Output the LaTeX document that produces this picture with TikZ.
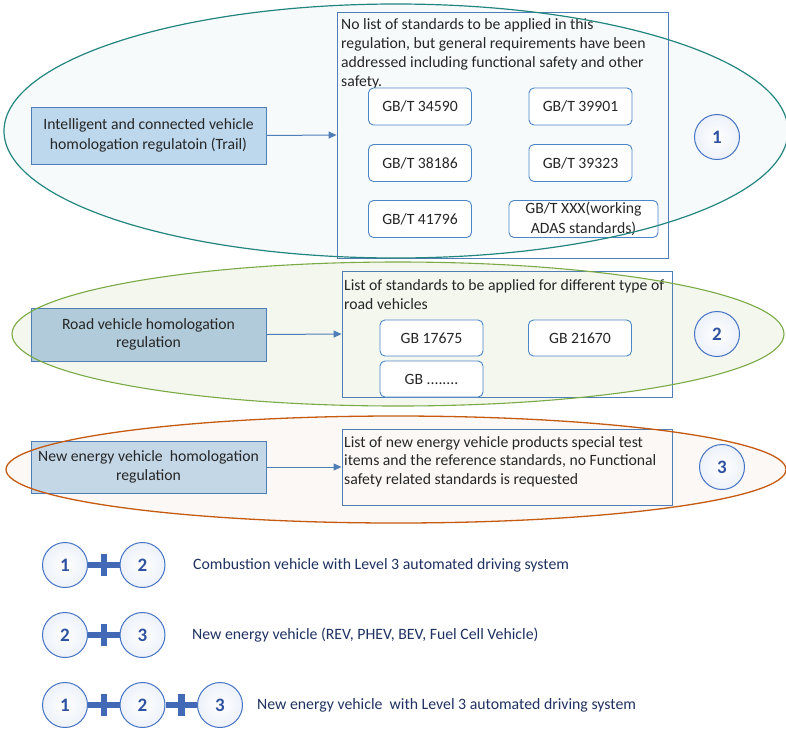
\documentclass[tikz,border=0pt]{standalone}
\usepackage{fontspec}
\setmainfont{Carlito}
\usetikzlibrary{shapes.geometric,calc,arrows.meta}

\definecolor{tealedge}{HTML}{23857F}
\definecolor{tealfill}{HTML}{F7FAFB}
\definecolor{greenedge}{HTML}{7AAA45}
\definecolor{greenfill}{HTML}{F3F7EE}
\definecolor{orangeedge}{HTML}{C55A11}
\definecolor{orangefill}{HTML}{FCF8F5}
\definecolor{boxedge}{HTML}{4F7DB6}
\definecolor{boxfillA}{HTML}{BDD7EC}
\definecolor{boxfillB}{HTML}{B1CBDA}
\definecolor{boxfillC}{HTML}{C4D7E7}
\definecolor{stdedge}{HTML}{4A86C8}
\definecolor{numblue}{HTML}{2F52A0}
\definecolor{ringblue}{HTML}{4472C4}
\definecolor{plusblue}{HTML}{4169B5}
\definecolor{navytext}{HTML}{1F3161}
\definecolor{bodytext}{HTML}{262626}

\tikzset{
  regbox/.style={draw=boxedge, line width=0.9pt, minimum width=235pt,
    align=center, text=bodytext, inner sep=0pt},
  listbox/.style={draw=boxedge, line width=0.9pt, minimum width=330pt, inner sep=0pt},
  listtext/.style={anchor=north west, align=left, text=bodytext, inner sep=0pt},
  stdbox/.style={draw=stdedge, line width=0.9pt, rounded corners=5pt, fill=white,
    minimum width=103pt, minimum height=37pt, align=center, text=bodytext,
    font=\fontsize{15.7}{20}\selectfont, inner sep=0pt},
  numring/.style={circle, draw=ringblue, line width=1pt, minimum size=45pt,
    inner color=white, outer color=ringblue!10, text=numblue,
    font=\fontsize{19}{19}\selectfont\bfseries, inner sep=0pt},
  linkarrow/.style={draw=boxedge, line width=1pt, -{Triangle[length=8pt,width=7pt]}},
  plusbar/.style={draw=plusblue, line width=6.5pt},
  combotext/.style={anchor=west, text=navytext, font=\fontsize{15.8}{18}\selectfont, inner sep=0pt},
}

\begin{document}
\begin{tikzpicture}[x=1pt, y=-1pt]
\useasboundingbox (0,0) rectangle (786,729);

% tinted areas of the three regulation groups
\fill[tealfill] (396,131) ellipse [x radius=392, y radius=127];
\fill[greenfill] (398,334) ellipse [x radius=386, y radius=72];
\fill[orangefill] (396,469.5) ellipse [x radius=390, y radius=53.5];

% group 1: intelligent and connected vehicles
\node[regbox, fill=boxfillA, minimum height=57pt, font=\fontsize{15.7}{20}\selectfont] (r1) at (148.5,135.5)
  {Intelligent and connected vehicle\\homologation regulatoin (Trail)};
\node[listbox, minimum width=331pt, minimum height=246pt] (l1) at (502.5,135) {};
\node[listtext, font=\fontsize{15.7}{19}\selectfont] (t1) at (341,18.5)
  {No list of standards to be applied in this\\regulation, but general requirements have been\\addressed including functional safety and other\\safety.};
\node[stdbox] (s1) at (420,106.5) {GB/T 34590};
\node[stdbox] (s2) at (580.5,106.5) {GB/T 39901};
\node[stdbox] (s3) at (420,163) {GB/T 38186};
\node[stdbox] (s4) at (580.5,163) {GB/T 39323};
\node[stdbox] (s5) at (420,219) {GB/T 41796};
\node[stdbox, minimum width=149pt] (s6) at (583.5,219) {GB/T XXX(working\\ADAS standards)};
\draw[linkarrow] (r1.east) -- (l1.west);
\node[numring] (n1) at (717,137) {1};

% group 2: road vehicles
\node[regbox, fill=boxfillB, minimum height=53pt, font=\fontsize{15.7}{18}\selectfont] (r2) at (148.5,334.5)
  {Road vehicle homologation\\regulation};
\node[listbox, minimum height=126pt] (l2) at (507,334) {};
\node[listtext, font=\fontsize{15.7}{19}\selectfont] (t2) at (344,279)
  {List of standards to be applied for different type of\\road vehicles};
\node[stdbox, minimum height=36pt] (g1) at (431.5,338) {GB 17675};
\node[stdbox, minimum height=36pt] (g2) at (580,338) {GB 21670};
\node[stdbox, minimum height=36pt] (g3) at (431.5,379) {GB ........};
\draw[linkarrow] (r2.east) -- (l2.west);
\node[numring] (n2) at (717,334) {2};

% group 3: new energy vehicles
\node[regbox, fill=boxfillC, minimum height=52pt, font=\fontsize{15.7}{19}\selectfont] (r3) at (148.5,467)
  {New energy vehicle\ \ homologation\\regulation};
\node[listbox, minimum height=76pt] (l3) at (507,467) {};
\node[listtext, font=\fontsize{15.7}{18.5}\selectfont] (t3) at (344,436)
  {List of new energy vehicle products special test\\items and the reference standards, no Functional\\safety related standards is requested};
\draw[linkarrow] (r3.east) -- (l3.west);
\node[numring] (n3) at (722,467) {3};

% group outlines on top
\draw[tealedge, line width=1.2pt] (396,131) ellipse [x radius=392, y radius=127];
\draw[greenedge, line width=1.1pt] (398,334) ellipse [x radius=386, y radius=72];
\draw[orangeedge, line width=1.3pt] (396,469.5) ellipse [x radius=390, y radius=53.5];

% combinations
\node[numring] (a1) at (65,565) {1};
\node[numring] (a2) at (142.5,565) {2};
\draw[plusbar] (a1.east) -- (a2.west);
\draw[plusbar] ($(a1.east)!0.5!(a2.west)+(0,-11)$) -- ++(0,22);
\node[combotext] (ta) at (193,565) {Combustion vehicle with Level 3 automated driving system};

\node[numring] (b2) at (65,635) {2};
\node[numring] (b3) at (142.5,635) {3};
\draw[plusbar] (b2.east) -- (b3.west);
\draw[plusbar] ($(b2.east)!0.5!(b3.west)+(0,-11)$) -- ++(0,22);
\node[combotext] (tb) at (192,635) {New energy vehicle (REV, PHEV, BEV, Fuel Cell Vehicle)};

\node[numring] (c1) at (65,705) {1};
\node[numring] (c2) at (142.5,705) {2};
\node[numring] (c3) at (220,705) {3};
\draw[plusbar] (c1.east) -- (c2.west);
\draw[plusbar] ($(c1.east)!0.5!(c2.west)+(0,-11)$) -- ++(0,22);
\draw[plusbar] (c2.east) -- (c3.west);
\draw[plusbar] ($(c2.east)!0.5!(c3.west)+(0,-11)$) -- ++(0,22);
\node[combotext] (tc) at (257,705) {New energy vehicle\ \ with Level 3 automated driving system};
\end{tikzpicture}
\end{document}
